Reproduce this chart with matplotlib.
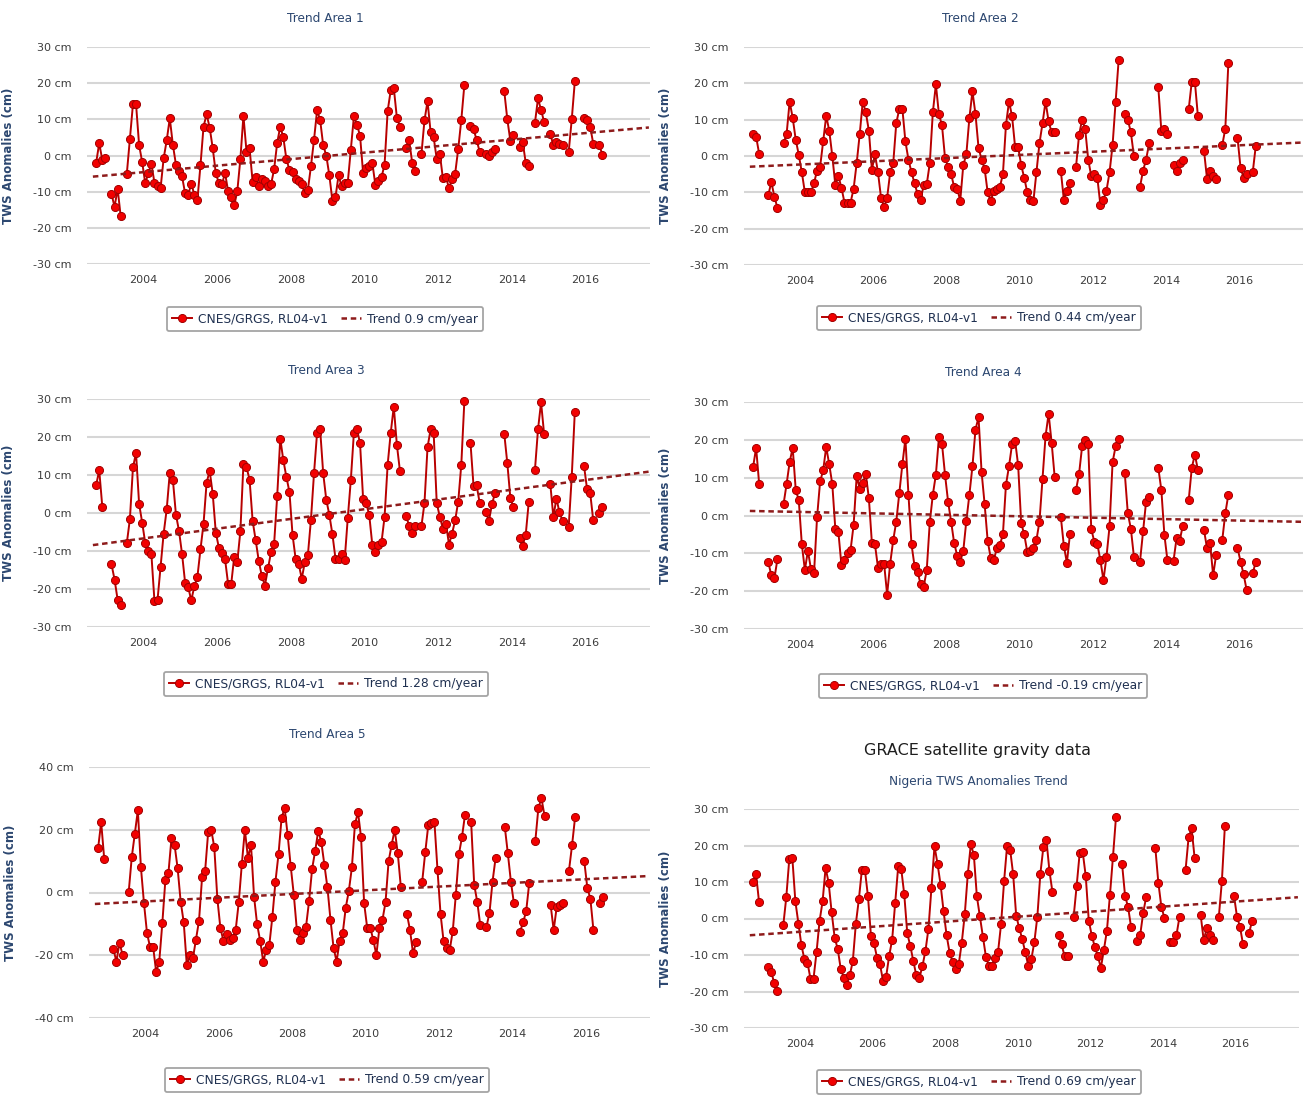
import numpy as np
import matplotlib
matplotlib.use("Agg")
import matplotlib.pyplot as plt
from matplotlib.lines import Line2D

W, H = 1308, 1095

# ---------------------------------------------------------------------------
# Monthly TWS anomalies (cm). Each area is a list of contiguous runs:
# (first month, values); missing months between runs break the line.
# ---------------------------------------------------------------------------
AREA1 = [
    ("2002-09", [-2.0, 3.4, -1.2, -0.8]),
    ("2003-02", [-10.6, -14.2, -9.2, -16.8]),
    ("2003-07", [-5.0, 4.7, 14.2, 14.2, 2.9, -1.8,
                 -7.7, -4.9, -2.3, -7.5, -8.5, -9.0, -0.8, 4.2, 10.3, 3.0, -2.5, -4.2,
                 -5.8, -10.5, -10.9, -7.8, -10.8, -12.3, -2.7, 8.0, 11.4, 7.7, 2.0, -4.9,
                 -7.7, -8.0, -4.8, -9.8, -11.5, -13.8, -9.9, -1.0, 11.0, 1.1, 2.0, -7.3,
                 -6.0, -8.5, -6.5, -7.0, -8.5, -8.0, -3.8, 3.5, 8.0, 5.0, -1.0, -4.0,
                 -4.5, -6.5, -7.0, -8.0, -10.5, -9.5, -3.0, 4.3, 12.5, 9.8, 2.8, 0.0,
                 -5.5, -12.5, -11.5, -5.5, -8.5, -7.5, -7.5, 1.5, 10.8, 8.5, 5.5, -4.8,
                 -3.5, -3.0, -2.0, -8.2, -7.0, -6.0, -2.5, 12.3, 18.0, 18.7, 10.5, 8.0]),
    ("2011-02", [2.0, 4.3, -2.0, -4.3]),
    ("2011-07", [0.3, 9.7, 15.0, 6.5, 5.0, -1.0, 0.5, -6.3, -6.0, -9.0, -6.5, -5.0, 1.8, 9.8, 19.5]),
    ("2012-11", [8.2, 7.3, 4.3, 1.0]),
    ("2013-04", [0.5, 0.0, 1.0, 1.8]),
    ("2013-10", [17.8, 10.0, 4.0, 5.8]),
    ("2014-03", [2.3, 3.8, -2.0, -3.0]),
    ("2014-08", [9.0, 15.8, 12.5, 9.3]),
    ("2015-01", [6.0, 2.8, 3.8, 3.3, 3.0]),
    ("2015-07", [1.0, 10.0, 20.5]),
    ("2015-12", [10.3, 9.8, 8.0, 3.3]),
    ("2016-05", [2.8, 0.2]),
]

AREA2 = [
    ("2002-09", [6.0, 5.3, 0.6]),
    ("2003-02", [-10.7, -7.2, -11.2, -14.3]),
    ("2003-07", [3.5, 6.0, 15.0, 10.5, 4.5, 0.3,
                 -4.5, -10.0, -10.0, -10.0, -7.5, -4.0, -3.0, 4.0, 11.0, 7.0, 0.0, -8.0,
                 -5.5, -8.7, -12.8, -12.8, -12.8, -9.0, -2.0, 6.0, 15.0, 12.0, 7.0, -3.8,
                 0.5, -4.5, -11.5, -14.0, -11.5, -4.5, -2.0, 9.0, 13.0, 13.0, 4.0, -1.0,
                 -4.5, -7.5, -10.5, -12.0, -8.0, -7.8, -2.0, 12.0, 19.7, 11.5, 8.5, -0.5,
                 -3.0, -5.0, -8.5, -9.0, -12.3, -2.5, 0.5, 10.5, 17.8, 11.5, 2.3, -1.0,
                 -3.5, -10.0, -12.5, -9.5, -9.0, -8.5, -5.0, 8.5, 15.0, 11.0, 2.5, 2.5,
                 -2.5, -6.0, -10.0, -12.0, -12.5, -4.5, 3.5, 9.0, 15.0, 9.5, 6.5, 6.5]),
    ("2011-02", [-4.0, -12.0, -9.5, -7.5]),
    ("2011-07", [-3.0, 5.8, 10.0, 7.5, -1.0, -5.5, -5.0, -6.0, -13.5, -12.0, -9.5, -4.5, 3.0, 15.0, 26.5]),
    ("2012-11", [11.5, 10.0, 6.5, 0.0]),
    ("2013-04", [-8.5, -4.0, -1.0, 3.5]),
    ("2013-10", [19.0, 7.0, 7.3, 6.0]),
    ("2014-03", [-2.5, -4.0, -2.0, -1.0]),
    ("2014-08", [13.0, 20.5, 20.5, 11.0]),
    ("2015-01", [1.5, -6.3, -4.0, -5.5, -6.2]),
    ("2015-07", [3.0, 7.5, 25.5]),
    ("2015-12", [5.0, -3.2, -6.0, -5.0]),
    ("2016-05", [-4.5, 2.8]),
]

AREA3 = [
    ("2002-09", [7.3, 11.3, 1.7]),
    ("2003-02", [-13.5, -17.5, -22.8, -24.2]),
    ("2003-07", [-7.9, -1.6, 12.0, 15.8, 2.4, -2.5,
                 -7.9, -9.9, -10.8, -23.1, -22.9, -14.2, -5.4, 1.0, 10.6, 8.8, -0.4, -4.7,
                 -10.8, -18.4, -19.5, -23.0, -19.3, -16.8, -9.6, -2.8, 8.0, 11.1, 5.0, -5.2,
                 -9.1, -10.5, -12.1, -18.6, -18.8, -11.5, -12.9, -4.8, 12.8, 12.0, 8.8, -2.1,
                 -7.2, -12.6, -16.6, -19.1, -14.6, -10.3, -8.1, 4.4, 19.6, 13.9, 9.5, 5.5,
                 -5.7, -12.0, -13.3, -17.3, -13.0, -11.1, -1.8, 10.4, 21.1, 22.0, 10.4, 3.5,
                 -0.5, -5.6, -12.0, -12.1, -10.8, -12.3, -1.4, 8.7, 21.1, 22.0, 18.4, 3.8,
                 2.6, -0.5, -8.4, -10.2, -8.4, -7.7, -1.0, 12.7, 21.1, 28.0, 18.0, 11.1]),
    ("2011-02", [-0.8, -3.3, -5.2, -3.5]),
    ("2011-07", [-3.5, 2.6, 17.3, 22.0, 21.0, 2.6, -1.0, -4.1, -2.8, -8.3, -5.4, -1.9, 3.0, 12.7, 29.4]),
    ("2012-11", [18.4, 7.0, 7.3, 2.6]),
    ("2013-04", [0.2, -2.1, 2.3, 5.3]),
    ("2013-10", [20.9, 13.1, 3.9, 1.5]),
    ("2014-03", [-6.5, -8.6, -5.7, 3.0]),
    ("2014-08", [11.3, 22.0, 29.1, 20.7]),
    ("2015-01", [7.7, -1.0, 3.8, 0.2, -2.1]),
    ("2015-07", [-3.7, 9.6, 26.7]),
    ("2015-12", [12.4, 6.2, 5.3, -1.9]),
    ("2016-05", [-0.1, 1.7]),
]

AREA4 = [
    ("2002-09", [12.8, 17.9, 8.3]),
    ("2003-02", [-12.4, -15.8, -16.6, -11.5]),
    ("2003-07", [3.0, 8.3, 14.1, 17.9, 6.8, 4.0,
                 -7.6, -14.4, -9.3, -14.2, -15.3, -0.5, 9.0, 11.9, 18.1, 13.5, 8.3, -3.6,
                 -4.4, -13.1, -11.8, -10.0, -9.1, -2.5, 10.4, 7.1, 8.6, 11.0, 4.6, -7.3,
                 -7.6, -13.8, -12.9, -12.7, -20.9, -12.7, -6.5, -1.6, 5.9, 13.5, 20.3, 5.5,
                 -7.6, -13.4, -14.9, -18.2, -18.8, -14.4, -1.8, 5.5, 10.8, 20.7, 19.0, 10.8,
                 3.7, -1.6, -7.3, -10.6, -12.2, -9.3, -1.4, 5.5, 13.0, 22.7, 26.0, 11.5,
                 3.0, -6.7, -11.2, -11.8, -8.7, -7.8, -5.0, 8.1, 13.0, 18.8, 19.8, 13.3,
                 -2.0, -5.0, -9.6, -9.4, -8.7, -6.5, -1.6, 9.6, 21.0, 26.9, 19.2, 10.1]),
    ("2011-02", [-0.3, -8.0, -12.5, -5.0]),
    ("2011-07", [6.8, 11.0, 18.3, 20.0, 18.8, -3.6, -6.9, -7.6, -11.8, -17.1, -10.9, -2.9, 14.1, 18.3, 20.1]),
    ("2012-11", [11.2, 0.6, -3.5, -10.9]),
    ("2013-04", [-12.2, -4.2, 3.7, 4.8]),
    ("2013-10", [12.6, 6.8, -5.1, -11.8]),
    ("2014-03", [-12.0, -6.0, -6.7, -2.9]),
    ("2014-08", [4.2, 12.6, 16.1, 12.1]),
    ("2015-01", [-3.8, -8.7, -7.3, -15.8, -10.4]),
    ("2015-07", [-6.5, 0.6, 5.5]),
    ("2015-12", [-8.5, -12.2, -15.5, -19.7]),
    ("2016-05", [-15.3, -12.2]),
]

AREA5 = [
    ("2002-09", [14.1, 22.4, 10.7]),
    ("2003-02", [-18.1, -22.0, -16.0, -19.9]),
    ("2003-07", [0.1, 11.2, 18.6, 26.2, 8.0, -3.4,
                 -13.0, -17.4, -17.4, -25.4, -22.0, -9.8, 4.0, 6.2, 17.3, 15.2, 7.8, -2.9,
                 -9.5, -23.1, -19.9, -21.0, -15.1, -9.0, 4.8, 6.9, 19.3, 20.0, 14.4, -2.0,
                 -11.4, -15.4, -13.3, -15.1, -14.6, -11.9, -3.1, 9.0, 20.0, 11.0, 15.2, -1.3,
                 -10.1, -15.4, -22.0, -18.3, -16.7, -7.7, 3.5, 12.2, 23.7, 27.0, 18.2, 8.3,
                 -0.7, -11.9, -15.1, -13.0, -10.9, -2.7, 7.6, 13.3, 19.7, 16.1, 8.8, 1.6,
                 -8.7, -17.6, -22.0, -15.4, -13.0, -4.8, 0.5, 8.0, 21.8, 25.6, 17.6, -3.4,
                 -11.2, -11.2, -15.1, -19.9, -11.4, -8.7, -3.1, 9.9, 15.2, 20.0, 12.6, 1.9]),
    ("2011-02", [-6.9, -11.9, -19.4, -15.9]),
    ("2011-07", [3.5, 12.9, 21.6, 22.1, 22.4, 7.2, -6.9, -15.6, -17.6, -18.3, -12.2, -0.7, 12.2, 17.6, 24.8]),
    ("2012-11", [22.5, 2.5, -3.0, -10.5]),
    ("2013-04", [-11.0, -6.5, 3.5, 11.0]),
    ("2013-10", [21.0, 12.5, 3.5, -3.5]),
    ("2014-03", [-12.5, -9.5, -6.0, 3.0]),
    ("2014-08", [16.5, 27.0, 30.0, 24.5]),
    ("2015-01", [-4.0, -12.0, -4.5, -4.0, -3.5]),
    ("2015-07", [7.0, 15.0, 24.0]),
    ("2015-12", [10.0, 1.5, -2.0, -12.0]),
    ("2016-05", [-3.5, -1.5]),
]

NIGERIA = [
    ("2002-09", [10.0, 12.2, 4.5]),
    ("2003-02", [-13.2, -14.6, -17.6, -19.9]),
    ("2003-07", [-1.9, 5.8, 16.4, 16.6, 4.7, -1.4,
                 -7.3, -11.2, -12.1, -16.5, -16.5, -9.2, -0.7, 4.7, 13.9, 9.8, 1.7, -5.3,
                 -8.3, -13.8, -16.2, -18.1, -15.6, -11.6, -1.4, 5.3, 13.4, 13.2, 6.1, -4.8,
                 -6.8, -10.7, -12.6, -17.2, -16.0, -10.3, -5.8, 4.3, 14.3, 13.6, 6.6, -4.1,
                 -7.5, -11.7, -15.6, -16.3, -13.1, -8.9, -2.8, 8.4, 19.8, 15.0, 9.3, 2.0,
                 -4.6, -9.4, -11.9, -13.8, -12.6, -6.7, 1.1, 12.1, 20.3, 17.5, 6.1, 0.6,
                 -5.1, -10.5, -13.1, -13.1, -10.8, -9.2, -1.6, 10.2, 20.0, 18.9, 12.1, 0.8,
                 -2.6, -5.6, -9.2, -12.9, -11.2, -6.5, 0.5, 12.3, 19.6, 21.5, 13.0, 7.2]),
    ("2011-02", [-4.4, -7.1, -10.3, -10.3]),
    ("2011-07", [0.5, 9.0, 18.0, 18.2, 11.6, -0.6, -4.7, -7.8, -10.3, -13.5, -8.6, -3.3, 6.4, 16.9, 27.8]),
    ("2012-11", [15.0, 6.2, 3.1, -2.4]),
    ("2013-04", [-6.3, -4.5, 1.6, 6.0]),
    ("2013-10", [19.4, 9.8, 3.2, 0.2]),
    ("2014-03", [-6.5, -6.5, -4.5, 0.5]),
    ("2014-08", [13.3, 22.2, 24.7, 16.5]),
    ("2015-01", [0.9, -6.0, -2.6, -4.5, -6.0]),
    ("2015-07", [0.5, 10.2, 25.4]),
    ("2015-12", [6.3, 0.5, -2.3, -7.1]),
    ("2016-05", [-4.0, -0.6]),
]

SERIES = [AREA1, AREA2, AREA3, AREA4, AREA5, NIGERIA]
SUBTITLES = ["Trend Area 1", "Trend Area 2", "Trend Area 3",
             "Trend Area 4", "Trend Area 5", "Nigeria TWS Anomalies Trend"]
MAIN_TITLE = "GRACE satellite gravity data"
SERIES_NAME = "CNES/GRGS, RL04-v1"
TREND_RATE = [0.9, 0.44, 1.28, -0.19, 0.59, 0.69]      # cm/year
TREND_AT_2010 = [0.8, 0.3, 1.0, -0.2, 0.7, 0.5]         # cm, trend value at 2010.0
TREND_SPAN = (2002.62, 2017.72)
Y_TICKS = [[-30, -20, -10, 0, 10, 20, 30]] * 4 + [[-40, -20, 0, 20, 40]] + [[-30, -20, -10, 0, 10, 20, 30]]
X_TICKS = [2004, 2006, 2008, 2010, 2012, 2014, 2016]
X_RANGE = (2002.46, 2017.75)

# ---------------------------------------------------------------------------
# Layout (pixels): plot box left, right, top, bottom; subtitle, legend centres
# ---------------------------------------------------------------------------
BOXES = [(87, 650, 47, 264), (744, 1303, 47, 265),
         (87, 650, 399, 627), (744, 1303, 402, 629),
         (89, 650, 767, 1018), (744, 1299, 809, 1028)]
SUB_POS = [(325, 18), (980, 18), (326, 370), (983, 373), (327, 735), (978, 781)]
LEG_POS = [(325, 319), (979, 318), (326, 684), (983, 686), (327, 1080), (979, 1082)]
YLABEL_X = [15, 672, 15, 672, 17, 672]

LINE_C = "#b80000"
MARK_FC = "#f20000"
MARK_EC = "#a00000"
TREND_C = "#8e1b1b"
GRID_C = "#d6d6d6"
NAVY = "#2c4770"

plt.rcParams["font.family"] = ["DejaVu Sans"]


def month_to_year(s):
    y, m = s.split("-")
    return int(y) + (int(m) - 0.5) / 12.0


def series_xy(segments):
    xs, ys = [], []
    for start, vals in segments:
        t0 = month_to_year(start)
        for i, v in enumerate(vals):
            xs.append(t0 + i / 12.0)
            ys.append(v)
        xs.append(np.nan)
        ys.append(np.nan)
    return np.array(xs), np.array(ys)


fig = plt.figure(figsize=(W / 100, H / 100), dpi=100)
fig.patch.set_facecolor("white")

MS = 5.8
LW = 1.4

for k in range(6):
    l, r, t, b = BOXES[k]
    ax = fig.add_axes([l / W, 1 - b / H, (r - l) / W, (b - t) / H])
    yt = Y_TICKS[k]
    ax.set_xlim(*X_RANGE)
    ax.set_ylim(yt[0], yt[-1])
    ax.set_yticks(yt)
    ax.set_yticklabels([f"{v:g} cm" for v in yt])
    ax.set_xticks(X_TICKS)
    ax.set_xticklabels([str(v) for v in X_TICKS])
    for s in ax.spines.values():
        s.set_visible(False)
    ax.tick_params(axis="y", length=0, pad=11, labelsize=8, labelcolor="#3c3c3c")
    ax.tick_params(axis="x", length=0, pad=8, labelsize=8, labelcolor="#3c3c3c")
    ax.grid(axis="y", color=GRID_C, lw=1.5)
    ax.set_axisbelow(True)

    x, y = series_xy(SERIES[k])
    ax.plot(x, y, color=LINE_C, lw=LW, marker="o", ms=MS, mfc=MARK_FC,
            mec=MARK_EC, mew=0.7, zorder=3, clip_on=False)

    tx = np.array(TREND_SPAN)
    ty = TREND_AT_2010[k] + TREND_RATE[k] * (tx - 2010.0)
    ax.plot(tx, ty, color=TREND_C, lw=1.8, ls=(0, (2.2, 1.5)), zorder=4)

    ax.set_ylabel("TWS Anomalies (cm)", color=NAVY, fontsize=8.5,
                  fontweight="semibold")
    ax.yaxis.set_label_coords((YLABEL_X[k] - l) / (r - l), 0.5)

    sx, sy = SUB_POS[k]
    fig.text(sx / W, 1 - sy / H, SUBTITLES[k], ha="center", va="center",
             fontsize=8.7, color=NAVY)

    handles = [Line2D([], [], color=LINE_C, lw=LW, marker="o", ms=MS,
                      mfc=MARK_FC, mec=MARK_EC, mew=0.7),
               Line2D([], [], color=TREND_C, lw=1.8, ls=(0, (2.2, 1.5)))]
    labels = [SERIES_NAME, f"Trend {TREND_RATE[k]:g} cm/year"]
    lx, ly = LEG_POS[k]
    leg = fig.legend(handles, labels, loc="center",
                     bbox_to_anchor=(lx / W, 1 - ly / H),
                     bbox_transform=fig.transFigure, ncol=2, frameon=True,
                     fancybox=True, fontsize=8.8, handlelength=1.6,
                     handletextpad=0.5, columnspacing=1.1, borderpad=0.45,
                     labelcolor="#1f3050")
    leg.get_frame().set_edgecolor("#8f8f8f")
    leg.get_frame().set_linewidth(1.3)

fig.text(978 / W, 1 - 750 / H, MAIN_TITLE, ha="center", va="center",
         fontsize=11.5, color="#1e1e1e", fontweight="medium")

fig.savefig("out.png", dpi=100)
